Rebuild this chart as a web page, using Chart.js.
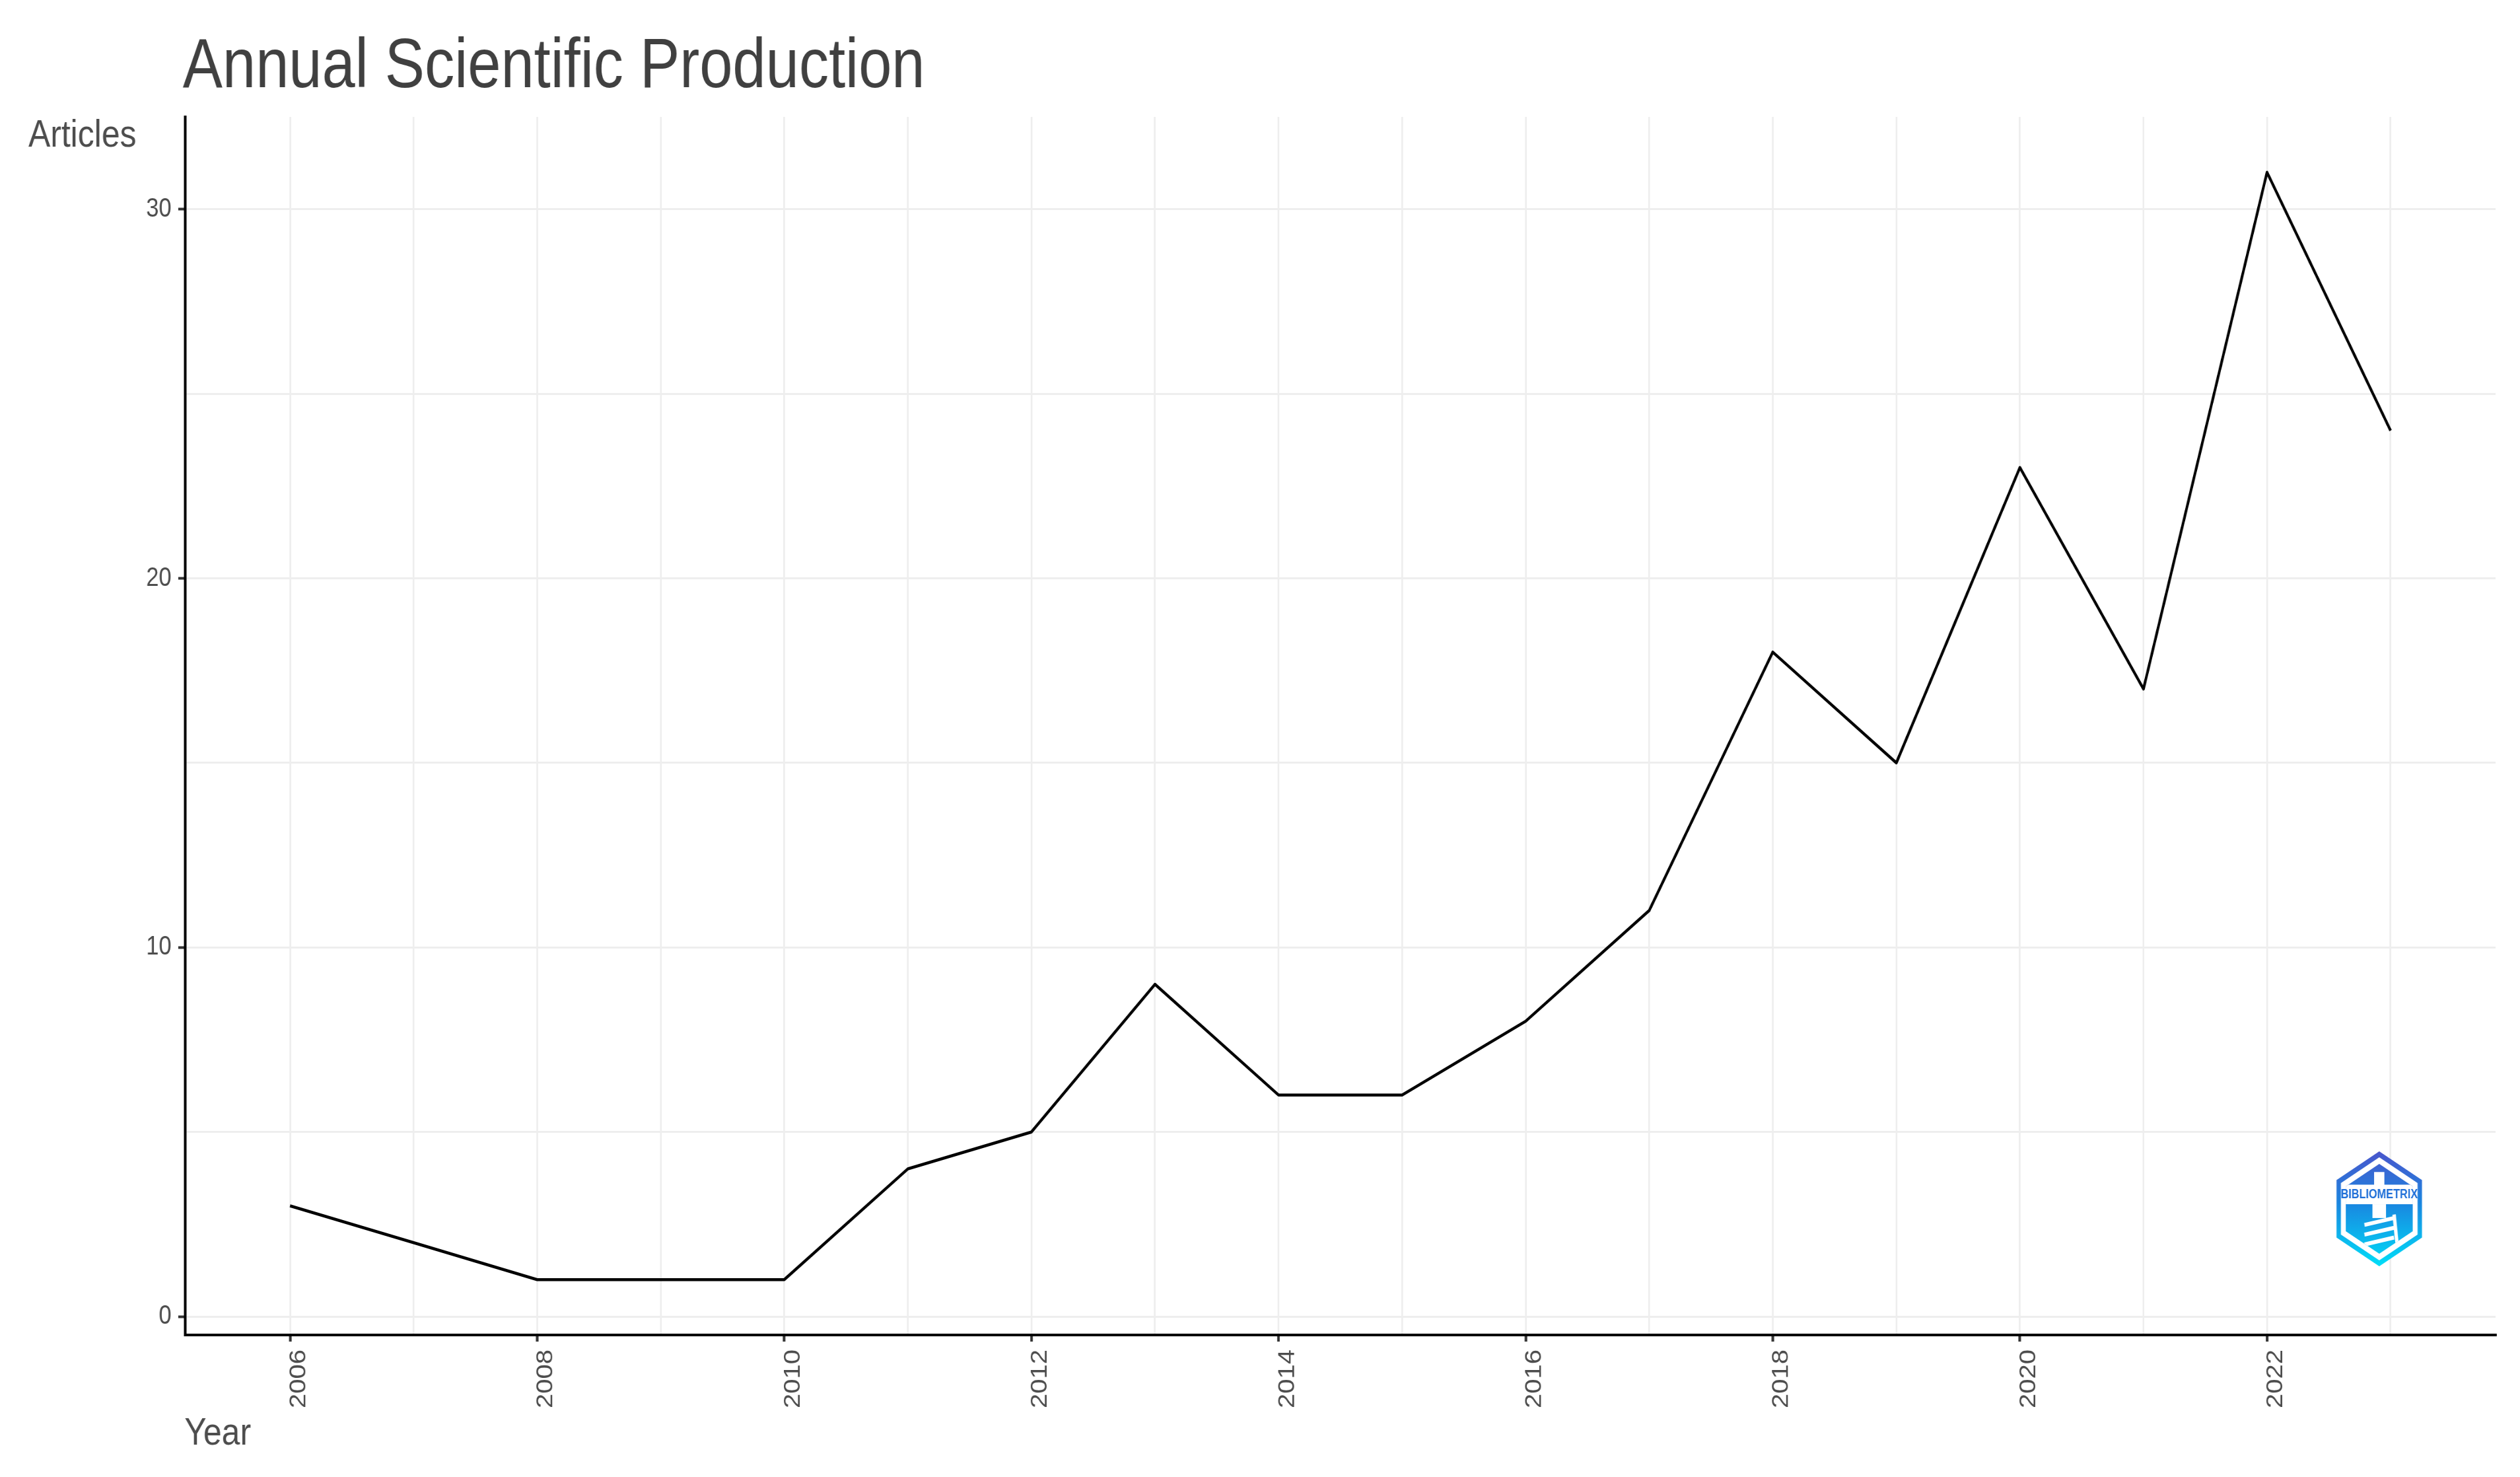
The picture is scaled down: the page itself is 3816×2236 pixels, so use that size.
<!DOCTYPE html>
<html>
<head>
<meta charset="utf-8">
<title>Annual Scientific Production</title>
<script src="https://cdn.jsdelivr.net/npm/chart.js@4.4.1/dist/chart.umd.min.js"></script>
<style>
  html, body { margin: 0; padding: 0; background: #fff; overflow: hidden; }
  /* the reference is a horizontally squeezed ggplot export, so the canvas
     is drawn wider than the page and squeezed back to 3816px */
  #holder { width: 4440px; height: 2236px; transform: scaleX(0.8594595); transform-origin: 0 0; }
  #chart { display: block; }
</style>
</head>
<body>
<div id="holder"><canvas id="chart" width="4440" height="2236"></canvas></div>
<script>
"use strict";

const years = [2006, 2007, 2008, 2009, 2010, 2011, 2012, 2013, 2014,
               2015, 2016, 2017, 2018, 2019, 2020, 2021, 2022, 2023];
const articles = [3, 2, 1, 1, 1, 4, 5, 9, 6, 6, 8, 11, 18, 15, 23, 17, 31, 24];

const yearLabels = [2006, 2008, 2010, 2012, 2014, 2016, 2018, 2020, 2022];
const articleTicks = [0, 5, 10, 15, 20, 25, 30];
const articleLabels = [0, 10, 20, 30];

const titleText = "Annual Scientific Production";
const yTitleText = "Articles";
const xTitleText = "Year";

const FONT = '"Liberation Sans", Arial, Helvetica, sans-serif';
const GRID = "#EEEEEE";
const TEXT = "#4D4D4D";

function hexPath(ctx, cx, cy, r) {
  ctx.beginPath();
  for (let i = 0; i < 6; i++) {
    const a = -Math.PI / 2 + i * Math.PI / 3;
    const x = cx + r * Math.cos(a);
    const y = cy + r * Math.sin(a);
    if (i === 0) ctx.moveTo(x, y); else ctx.lineTo(x, y);
  }
  ctx.closePath();
}

function drawLogo(ctx, cx, cy, r) {
  const grad = ctx.createLinearGradient(0, cy - r, 0, cy + r);
  grad.addColorStop(0, "#4a56cc");
  grad.addColorStop(0.45, "#1a86e0");
  grad.addColorStop(1, "#00def8");
  ctx.save();
  hexPath(ctx, cx, cy, r);
  ctx.fillStyle = grad;
  ctx.fill();
  hexPath(ctx, cx, cy, r - 9);
  ctx.fillStyle = "#fff";
  ctx.fill();
  hexPath(ctx, cx, cy, r - 19);
  ctx.fillStyle = grad;
  ctx.fill();
  ctx.save();
  ctx.clip();
  // white band, then tower and stairs
  ctx.fillStyle = "#fff";
  ctx.fillRect(cx - r, cy - 0.42 * r, 2 * r, 0.34 * r);
  ctx.fillRect(cx - 9, cy - 0.64 * r, 18, 0.24 * r);
  ctx.fillRect(cx - 12, cy - 0.08 * r, 24, 0.24 * r);
  ctx.lineWidth = 6;
  ctx.strokeStyle = "#fff";
  for (let i = 0; i < 3; i++) {
    const y = cy + 0.2 * r + i * 0.17 * r;
    ctx.beginPath();
    ctx.moveTo(cx - 0.3 * r, y + 0.08 * r);
    ctx.lineTo(cx + 0.3 * r, y - 0.04 * r);
    ctx.stroke();
  }
  ctx.beginPath();
  ctx.moveTo(cx + 0.3 * r, cy + 0.1 * r);
  ctx.lineTo(cx + 0.36 * r, cy + 0.6 * r);
  ctx.stroke();
  ctx.restore();
  // the name runs across the ring
  ctx.fillStyle = "#1f6fd8";
  ctx.font = "bold 20px " + FONT;
  ctx.textAlign = "center";
  ctx.textBaseline = "middle";
  ctx.fillText("BIBLIOMETRIX", cx, cy - 0.25 * r, 1.56 * r);
  ctx.restore();
}

const whiteBackground = {
  id: "whiteBackground",
  beforeDraw(chart) {
    const ctx = chart.ctx;
    ctx.save();
    ctx.fillStyle = "#fff";
    ctx.fillRect(0, 0, chart.width, chart.height);
    ctx.restore();
  }
};

const textsAndLogo = {
  id: "textsAndLogo",
  afterDraw(chart) {
    const ctx = chart.ctx;
    const area = chart.chartArea;
    ctx.save();
    ctx.textAlign = "left";
    ctx.textBaseline = "alphabetic";
    ctx.fillStyle = "#404040";
    ctx.font = "105px " + FONT;
    ctx.fillText(titleText, area.left - 4, 132);
    ctx.fillStyle = TEXT;
    ctx.font = "58px " + FONT;
    ctx.fillText(yTitleText, 50, 222);
    ctx.fillText(xTitleText, area.left - 1, 2187);
    ctx.restore();
    drawLogo(ctx, area.right - 205, area.bottom - 191, 87);
  }
};

const points = years.map((y, i) => ({ x: y, y: articles[i] }));

new Chart(document.getElementById("chart"), {
  type: "line",
  data: {
    datasets: [{
      label: "Articles",
      data: points,
      borderColor: "#000",
      borderWidth: 4.6,
      borderJoinStyle: "round",
      pointRadius: 0,
      tension: 0,
      fill: false
    }]
  },
  options: {
    responsive: false,
    animation: false,
    devicePixelRatio: 1,
    layout: { padding: { top: 177, right: 43, bottom: 0, left: 0 } },
    plugins: {
      legend: { display: false },
      title: { display: false },
      tooltip: { enabled: false }
    },
    scales: {
      x: {
        type: "linear",
        min: 2005.15,
        max: 2023.85,
        afterBuildTicks: (scale) => {
          scale.ticks = years.map((v) => ({ value: v }));
        },
        afterFit: (scale) => { scale.height = 2236 - 2021; },
        ticks: {
          autoSkip: false,
          minRotation: 90,
          maxRotation: 90,
          padding: 12,
          labelOffset: 16,
          color: TEXT,
          font: { family: FONT, size: 40 },
          callback: (v) => yearLabels.includes(v) ? String(v) : ""
        },
        grid: {
          color: GRID,
          lineWidth: 3,
          tickLength: 10,
          tickWidth: 4.6,
          tickColor: (c) => c.tick && yearLabels.includes(c.tick.value) ?
            "#333" : "rgba(0,0,0,0)"
        },
        border: { display: true, color: "#000", width: 4 }
      },
      y: {
        min: -0.5,
        max: 32.5,
        afterBuildTicks: (scale) => {
          scale.ticks = articleTicks.map((v) => ({ value: v }));
        },
        afterFit: (scale) => { scale.width = 326; },
        ticks: {
          padding: 12,
          color: TEXT,
          font: { family: FONT, size: 40 },
          callback: (v) => articleLabels.includes(v) ? String(v) : ""
        },
        grid: {
          color: GRID,
          lineWidth: 3,
          tickLength: 12,
          tickWidth: 4,
          tickColor: (c) => c.tick && articleLabels.includes(c.tick.value) ?
            "#333" : "rgba(0,0,0,0)"
        },
        border: { display: true, color: "#000", width: 4.6 }
      }
    }
  },
  plugins: [whiteBackground, textsAndLogo]
});
</script>
</body>
</html>
